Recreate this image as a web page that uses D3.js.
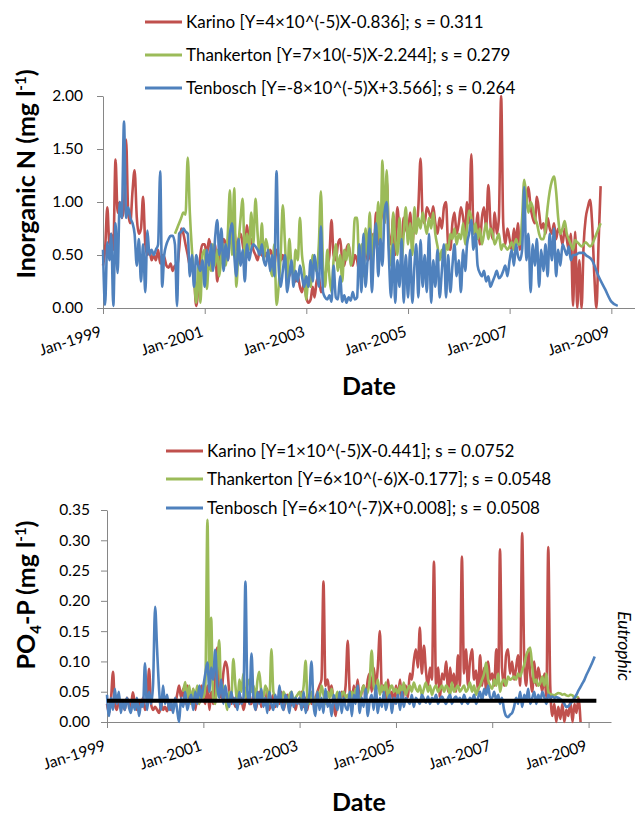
<!DOCTYPE html>
<html>
<head>
<meta charset="utf-8">
<script src="https://cdn.jsdelivr.net/npm/d3@7"></script>
<style>
  body { margin: 0; background: #fff; }
  text { font-family: Lato, "Open Sans", sans-serif; }
</style>
</head>
<body>
<svg id="chart" width="635" height="816"></svg>
<script>

// sampling: two readings a month (1st and 16th), Jan-1999 .. 2009
const years = [1999, 2000, 2001, 2002, 2003, 2004, 2005, 2006, 2007, 2008, 2009];
const halfMonthDays = ["01-01","01-16","02-01","02-16","03-01","03-16","04-01","04-16",
    "05-01","05-16","06-01","06-16","07-01","07-16","08-01","08-16",
    "09-01","09-16","10-01","10-16","11-01","11-16","12-01","12-16"];

const xTickLabels = ["Jan-1999", "Jan-2001", "Jan-2003", "Jan-2005", "Jan-2007", "Jan-2009"];
const seriesNames = ["Karino", "Thankerton", "Tenbosch"];
const seriesColors = ["#C0504D", "#9BBB59", "#4F81BD"];

// ---- Inorganic N (mg l-1) ----
const legendN = [
    "Karino [Y=4×10^(-5)X-0.836]; s = 0.311",
    "Thankerton [Y=7×10(-5)X-2.244]; s = 0.279",
    "Tenbosch [Y=-8×10^(-5)X+3.566]; s = 0.264"
];
const yTicksN = [0, 0.5, 1.0, 1.5, 2.0];

const karinoN = [
 /*1999*/ 0.40,0.55, 0.95,0.60, 0.70,0.55, 1.40,0.90, 1.00,0.85, 0.95,1.59, 0.90,0.80, 1.10,1.30, 0.85,0.70, 0.75,1.05, 0.60,0.50, 0.55,0.45,
 /*2000*/ 0.50,0.45, 0.55,0.42, 0.50,0.48, 0.40,0.38, 0.42,0.35, 0.40,0.38, 0.55,0.75, 0.70,0.60, 0.50,0.40, 0.45,0.30, 0.02,0.20, 0.50,0.60,
 /*2001*/ 0.60,0.50, 0.65,0.55, 0.45,0.60, 0.25,0.50, 0.55,0.65, 0.60,0.45, 0.70,0.60, 0.75,0.55, 0.65,0.70, 0.60,0.50, 0.78,0.60, 0.65,0.55,
 /*2002*/ 0.50,0.45, 0.55,0.50, 0.48,0.52, 0.45,0.55, 0.50,0.40, 0.55,0.50, 0.45,0.50, 0.40,0.45, 0.30,0.40, 0.35,0.25, 0.30,0.20, 0.15,0.25,
 /*2003*/ 0.10,0.05, 0.08,0.20, 0.10,0.25, 0.30,0.15, 0.20,0.30, 0.40,0.50, 0.83,0.50, 0.45,0.60, 0.65,0.45, 0.40,0.55, 0.60,0.45, 0.40,0.50,
 /*2004*/ 0.45,0.35, 0.50,0.40, 0.60,0.45, 0.50,0.70, 0.55,0.90, 0.60,0.75, 1.00,0.80, 1.20,0.70, 0.60,0.85, 0.50,0.95, 0.70,0.60, 0.85,0.75,
 /*2005*/ 0.70,0.90, 0.60,0.80, 0.75,0.95, 1.41,0.85, 0.80,0.95, 0.90,0.85, 0.96,0.80, 0.70,0.85, 0.75,0.95, 1.00,0.60, 0.55,0.80, 0.90,0.70,
 /*2006*/ 0.80,0.95, 0.85,0.70, 1.00,0.80, 1.45,0.75, 0.70,0.90, 0.60,0.85, 0.95,0.75, 1.16,0.80, 0.65,0.90, 0.70,0.85, 2.00,0.80, 0.60,0.75,
 /*2007*/ 0.65,0.55, 0.75,0.60, 0.80,0.55, 0.70,0.90, 1.00,1.14, 0.95,0.85, 0.80,1.05, 0.90,0.75, 0.80,0.70, 0.85,0.75, 0.70,0.80, 0.65,0.75,
 /*2008*/ 0.70,0.60, 0.75,0.65, 0.55,0.70, 0.02,0.72, 0.00,0.45, 0.00,0.60, 0.85,0.95, 1.02,0.80, 0.30,0.00, 0.60,1.15
];

const thankertonN = [
 /*1999*/ null,null, null,null, null,null, null,null, null,null, null,null, null,null, null,null, null,null, null,null, null,null, null,null,
 /*2000*/ null,null, null,null, null,null, null,null, null,null, 0.70,0.75, 0.80,0.85, 0.90,0.88, 1.42,0.90, 0.55,0.30, 0.05,0.40, 0.05,0.50,
 /*2001*/ 0.55,0.18, 0.45,0.35, 0.60,0.40, 0.55,0.30, 0.50,0.60, 0.40,0.70, 1.11,0.50, 1.13,0.20, 0.60,0.85, 1.03,0.45, 0.70,0.55, 0.90,0.60,
 /*2002*/ 1.03,0.70, 0.50,0.80, 0.45,0.65, 0.55,0.40, 0.30,0.60, 0.03,0.20, 0.50,0.97, 0.60,0.25, 0.65,0.40, 0.30,0.55, 0.45,0.85, 0.50,0.35,
 /*2003*/ 0.08,0.30, 0.20,0.50, 0.40,0.35, 0.60,1.10, 0.40,0.20, 0.55,0.30, 0.15,0.45, 0.60,0.35, 0.50,0.25, 0.55,0.45, 0.60,0.40, 0.50,0.85,
 /*2004*/ 0.85,0.40, 0.60,0.30, 0.75,0.50, 0.90,0.45, 0.70,0.60, 1.00,0.55, 1.39,0.80, 1.30,0.60, 0.40,0.90, 0.65,0.50, 0.85,0.45, 0.70,0.95,
 /*2005*/ 0.60,0.80, 0.50,0.95, 0.70,0.85, 0.75,0.90, 0.80,0.70, 0.85,0.75, 0.90,0.70, 0.58,0.45, 0.55,0.40, 0.60,0.55, 0.70,0.65, 0.75,0.60,
 /*2006*/ 0.70,0.65, 0.80,0.60, 0.75,0.92, 0.85,0.70, 0.80,0.65, 0.75,0.60, 0.70,0.80, 0.65,0.75, 0.70,0.60, 0.65,0.70, 0.55,0.60, 0.58,0.55,
 /*2007*/ 0.58,0.62, 0.55,0.65, 0.60,0.60, 0.85,1.21, 1.05,0.90, 1.00,0.95, 0.85,0.80, 0.70,0.65, 0.65,0.75, 0.95,1.10, 1.20,1.24, 1.10,0.85,
 /*2008*/ 0.70,0.75, 0.82,0.70, 0.65,0.60, 0.55,0.64, 0.62,0.60, 0.58,0.60, 0.62,0.60, 0.58,0.60, 0.65,0.70, 0.75,0.80
];

const tenboschN = [
 /*1999*/ 0.55,0.03, 0.62,0.45, 0.70,0.02, 0.80,0.33, 1.00,0.85, 1.76,0.85, 0.95,0.85, 0.80,0.70, 0.40,0.65, 0.25,0.60, 0.15,0.73, 0.50,0.55,
 /*2000*/ 0.50,0.55, 0.60,1.29, 0.20,0.50, 0.60,0.65, 0.68,0.68, 0.60,0.02, 0.70,0.72, 0.75,0.72, 0.70,0.30, 0.50,0.20, 0.50,0.40, 0.35,0.45,
 /*2001*/ 0.20,0.55, 0.40,0.60, 0.35,0.65, 0.83,0.50, 0.75,0.35, 0.60,0.45, 0.70,0.80, 0.50,0.30, 0.65,0.40, 0.55,0.25, 0.60,0.45, 0.55,0.60,
 /*2002*/ 0.58,0.55, 0.50,0.60, 0.45,0.40, 0.55,0.35, 0.50,0.30, 1.29,0.40, 0.20,0.35, 0.50,0.15, 0.30,0.45, 0.20,0.35, 0.25,0.40, 0.30,0.20,
 /*2003*/ 0.30,0.20, 0.45,0.25, 0.50,0.35, 0.20,0.77, 0.15,0.10, 0.08,0.12, 0.06,0.40, 0.10,0.08, 0.30,0.06, 0.12,0.05, 0.10,0.07, 0.15,0.08,
 /*2004*/ 0.10,0.60, 0.15,0.70, 0.20,0.45, 0.75,0.15, 0.55,0.80, 0.30,0.65, 0.40,0.90, 1.00,0.50, 0.10,0.60, 0.05,0.45, 0.20,0.65, 0.05,0.50,
 /*2005*/ 0.10,0.55, 0.05,0.40, 0.60,0.10, 0.64,0.20, 0.50,0.15, 0.70,0.05, 0.45,0.20, 0.55,0.10, 0.35,0.60, 0.10,0.50, 0.15,0.40, 0.60,0.30,
 /*2006*/ 0.45,0.15, 0.55,0.35, 0.60,0.70, 0.83,0.55, 0.70,0.40, 0.33,0.30, 0.35,0.25, 0.30,0.20, 0.25,0.30, 0.35,0.28, 0.30,0.35, 0.40,0.30,
 /*2007*/ 0.45,0.55, 0.40,0.60, 0.50,0.45, 0.55,1.14, 0.45,0.70, 0.15,0.60, 0.40,0.65, 0.20,0.55, 0.35,0.60, 0.30,0.70, 0.45,0.75, 0.30,0.55,
 /*2008*/ 0.40,0.60, 0.55,0.50, 0.58,0.45, 0.50,0.50, 0.51,0.52, 0.52,0.52, 0.50,null, null,0.45, null,null, 0.30,null, null,0.18, null,null,
 /*2009*/ 0.06,null, null,0.02
];

// ---- PO4-P (mg l-1) ----
const legendP = [
    "Karino [Y=1×10^(-5)X-0.441]; s = 0.0752",
    "Thankerton [Y=6×10^(-6)X-0.177]; s = 0.0548",
    "Tenbosch [Y=6×10^(-7)X+0.008]; s = 0.0508"
];
const yTicksP = [0, 0.05, 0.10, 0.15, 0.20, 0.25, 0.30, 0.35];
const eutrophicLevel = 0.035;
const eutrophicSpan = ["1999-01-01", "2009-03-01"];

const karinoP = [
 /*1999*/ 0.030,0.015, 0.040,0.083, 0.030,0.020, 0.035,0.025, 0.030,0.020, 0.040,0.030, 0.025,0.049, 0.030,0.020, 0.035,0.025, 0.040,0.020, 0.030,0.088, 0.030,0.020,
 /*2000*/ 0.025,0.020, 0.015,0.030, 0.020,0.025, 0.018,0.030, 0.020,0.025, 0.030,0.045, 0.060,0.040, 0.055,0.030, 0.060,0.040, 0.030,0.055, 0.020,0.045, 0.030,0.060,
 /*2001*/ 0.040,0.030, 0.060,0.020, 0.050,0.030, 0.070,0.123, 0.060,0.040, 0.080,0.100, 0.090,0.050, 0.030,0.040, 0.025,0.050, 0.030,0.040, 0.020,0.035, 0.050,0.030,
 /*2002*/ 0.030,0.045, 0.020,0.035, 0.050,0.025, 0.040,0.030, 0.055,0.020, 0.035,0.045, 0.025,0.040, 0.030,0.050, 0.020,0.035, 0.045,0.025, 0.030,0.040, 0.020,0.035,
 /*2003*/ 0.030,0.050, 0.025,0.040, 0.020,0.045, 0.030,0.035, 0.040,0.050, 0.060,0.070, 0.232,0.060, 0.070,0.050, 0.060,0.030, 0.010,0.040, 0.030,0.050, 0.040,0.060,
 /*2004*/ 0.134,0.050, 0.030,0.060, 0.040,0.070, 0.035,0.050, 0.060,0.040, 0.070,0.080, 0.050,0.090, 0.060,0.090, 0.150,0.050, 0.060,0.030, 0.070,0.040, 0.050,0.030,
 /*2005*/ 0.060,0.040, 0.070,0.030, 0.050,0.060, 0.040,0.080, 0.070,0.100, 0.120,0.090, 0.156,0.080, 0.126,0.085, 0.060,0.090, 0.070,0.265, 0.060,0.090, 0.040,0.080,
 /*2006*/ 0.070,0.100, 0.050,0.090, 0.060,0.080, 0.050,0.110, 0.060,0.273, 0.080,0.120, 0.060,0.100, 0.120,0.070, 0.085,0.050, 0.110,0.060, 0.090,0.050, 0.100,0.070,
 /*2007*/ 0.080,0.060, 0.120,0.070, 0.285,0.090, 0.060,0.110, 0.120,0.080, 0.100,0.070, 0.090,0.110, 0.060,0.312, 0.100,0.060, 0.120,0.080, 0.050,0.100, 0.060,0.090,
 /*2008*/ 0.070,0.050, 0.080,0.040, 0.289,0.060, 0.010,0.030, 0.000,0.025, 0.005,0.030, 0.000,0.020, 0.010,0.035, 0.000,0.030, 0.015,0.040, 0.000
];

const thankertonP = [
 /*1999*/ null,null, null,null, null,null, null,null, null,null, null,null, null,null, null,null, null,null, null,null, null,null, null,null,
 /*2000*/ null,null, null,null, null,null, null,null, null,null, null,null, null,null, 0.050,0.066, 0.040,0.060, 0.030,0.055, 0.040,0.060, 0.030,0.050,
 /*2001*/ 0.040,0.060, 0.334,0.050, 0.172,0.040, 0.030,0.080, 0.135,0.050, 0.060,0.040, 0.020,0.050, 0.040,0.104, 0.060,0.030, 0.070,0.050, 0.080,0.040, 0.060,0.070,
 /*2002*/ 0.050,0.060, 0.040,0.070, 0.083,0.050, 0.040,0.060, 0.050,0.030, 0.120,0.050, 0.040,0.030, 0.045,0.035, 0.050,0.040, 0.030,0.045, 0.050,0.035, 0.040,0.045,
 /*2003*/ 0.050,0.040, 0.060,0.101, 0.040,0.030, 0.050,0.040, 0.020,0.050, 0.040,0.060, 0.045,0.030, 0.050,0.040, 0.055,0.035, 0.040,0.050, 0.030,0.045, 0.050,0.040,
 /*2004*/ 0.045,0.035, 0.050,0.040, 0.055,0.045, 0.040,0.050, 0.060,0.045, 0.050,0.070, 0.118,0.060, 0.050,0.070, 0.045,0.060, 0.050,0.065, 0.040,0.055, 0.060,0.050,
 /*2005*/ 0.055,0.045, 0.060,0.050, 0.065,0.045, 0.055,0.060, 0.050,0.065, 0.055,0.050, 0.060,0.045, 0.055,0.065, 0.050,0.060, 0.045,0.055, 0.060,0.050, 0.055,0.060,
 /*2006*/ 0.050,0.060, 0.055,0.045, 0.065,0.050, 0.055,0.060, 0.050,0.055, 0.060,0.050, 0.055,0.065, 0.050,0.060, 0.045,0.055, 0.060,0.070, 0.080,0.098, 0.070,0.060,
 /*2007*/ 0.055,0.070, 0.060,0.080, 0.050,0.065, 0.070,0.060, 0.075,0.070, 0.072,0.075, 0.070,0.080, 0.075,0.085, 0.095,0.110, 0.118,0.123, 0.090,0.065, 0.070,0.060,
 /*2008*/ 0.065,0.075, 0.060,0.080, 0.050,0.046, 0.045,0.044, 0.046,0.048, 0.047,0.045, 0.046,0.044, 0.043,0.045, 0.044,0.040, 0.042,0.040
];

const tenboschP = [
 /*1999*/ 0.045,0.010, 0.040,0.020, 0.055,0.030, 0.050,0.015, 0.035,0.020, 0.040,0.025, 0.015,0.035, 0.020,0.040, 0.010,0.030, 0.025,0.097, 0.020,0.050, 0.030,0.060,
 /*2000*/ 0.190,0.120, 0.050,0.020, 0.060,0.030, 0.045,0.020, 0.035,0.015, 0.040,0.020, 0.000,0.040, 0.025,0.050, 0.020,0.035, 0.045,0.020, 0.050,0.030, 0.060,0.040,
 /*2001*/ 0.060,0.080, 0.098,0.050, 0.090,0.070, 0.119,0.060, 0.040,0.070, 0.030,0.060, 0.040,0.025, 0.050,0.030, 0.040,0.020, 0.050,0.030, 0.040,0.232, 0.050,0.030,
 /*2002*/ 0.113,0.040, 0.020,0.050, 0.030,0.055, 0.025,0.040, 0.015,0.050, 0.030,0.020, 0.045,0.025, 0.060,0.030, 0.020,0.045, 0.035,0.015, 0.050,0.025, 0.040,0.030,
 /*2003*/ 0.040,0.020, 0.050,0.015, 0.030,0.045, 0.100,0.030, 0.010,0.050, 0.020,0.040, 0.015,0.055, 0.025,0.035, 0.010,0.045, 0.030,0.020, 0.050,0.015, 0.040,0.025,
 /*2004*/ 0.020,0.050, 0.010,0.045, 0.030,0.060, 0.015,0.040, 0.025,0.055, 0.010,0.035, 0.045,0.020, 0.060,0.015, 0.040,0.025, 0.050,0.020, 0.035,0.045, 0.015,0.040,
 /*2005*/ 0.030,0.045, 0.020,0.050, 0.025,0.040, 0.035,0.030, 0.045,0.025, 0.040,0.035, 0.030,0.045, 0.038,0.032, 0.042,0.030, 0.040,0.035, 0.045,0.030, 0.038,0.042,
 /*2006*/ 0.035,0.030, 0.040,0.045, 0.030,0.038, 0.042,0.035, 0.040,0.030, 0.045,0.035, 0.030,0.040, 0.035,0.045, 0.030,0.040, 0.050,0.035, 0.055,0.045, 0.060,0.040,
 /*2007*/ 0.040,0.050, 0.035,0.045, 0.030,0.040, 0.020,0.010, 0.008,0.012, 0.015,0.025, 0.040,0.030, 0.050,0.025, 0.045,0.035, 0.055,0.030, 0.040,0.050, 0.030,0.045,
 /*2008*/ 0.035,0.050, 0.040,0.030, 0.045,0.040, 0.042,0.040, 0.041,0.040, 0.038,0.035, 0.030,0.025, 0.026,0.030, 0.035,0.040, 0.045,0.052, 0.058,0.064, 0.070,0.078,
 /*2009*/ 0.085,0.092, 0.100,0.108
];

const parseDate = d3.timeParse("%Y-%m-%d");
const sampleDates = years.flatMap(y => halfMonthDays.map(md => parseDate(y + "-" + md)));
const xDomain = [parseDate("1999-01-01"), parseDate("2009-06-20")];

const svg = d3.select("#chart");

function toPoints(values) {
    return values.map((v, i) => ({date: sampleDates[i], value: v}))
        .filter(d => d.value !== null && d.value !== undefined);
}

function drawPanel(p) {
    const x = d3.scaleTime().domain(xDomain).range([p.left, p.right]);
    const y = d3.scaleLinear().domain([0, p.yMax]).range([p.bottom, p.top]);

    // y axis
    const yAxis = svg.append("g")
        .attr("transform", "translate(" + p.left + ",0)")
        .call(d3.axisLeft(y).tickValues(p.yTicks).tickFormat(d3.format(".2f"))
            .tickSize(6).tickSizeOuter(0).tickPadding(p.yPad));
    yAxis.select(".domain").attr("stroke", "#868686");
    yAxis.selectAll(".tick line").attr("stroke", "#868686");
    yAxis.selectAll(".tick text").attr("fill", "#000").style("font-size", "15.5px");

    // x axis
    const xTicks = xTickLabels.map(s => d3.timeParse("%b-%Y")(s));
    const xAxis = svg.append("g")
        .attr("transform", "translate(0," + p.bottom + ")")
        .call(d3.axisBottom(x).tickValues(xTicks).tickFormat(d3.timeFormat("%b-%Y"))
            .tickSize(6).tickSizeOuter(0));
    xAxis.select(".domain").attr("stroke", "#868686");
    xAxis.selectAll(".tick line").attr("stroke", "#868686");
    xAxis.selectAll(".tick text")
        .attr("fill", "#000").style("font-size", "15.5px")
        .attr("x", 0).attr("y", 0).attr("dy", 0)
        .attr("text-anchor", "end")
        .attr("transform", "translate(-1,28) rotate(-18)");

    // series
    const line = d3.line()
        .x(d => x(d.date))
        .y(d => y(d.value))
        .curve(d3.curveMonotoneX);

    p.series.forEach((vals, i) => {
        svg.append("path")
            .datum(toPoints(vals))
            .attr("fill", "none")
            .attr("stroke", seriesColors[i])
            .attr("stroke-width", 2.6)
            .attr("stroke-linejoin", "round")
            .attr("d", line);
    });

    if (p.threshold) {
        svg.append("line")
            .attr("x1", x(parseDate(eutrophicSpan[0])))
            .attr("x2", x(parseDate(eutrophicSpan[1])))
            .attr("y1", y(eutrophicLevel))
            .attr("y2", y(eutrophicLevel))
            .attr("stroke", "#000")
            .attr("stroke-width", 4);
        svg.append("text")
            .attr("transform", "translate(618,646) rotate(90)")
            .attr("text-anchor", "middle")
            .style("font-size", "17.5px")
            .style("font-style", "italic")
            .text("Eutrophic");
    }

    // legend
    p.legend.forEach((label, i) => {
        const ly = p.legendRows[i];
        svg.append("line")
            .attr("x1", p.legendX).attr("x2", p.legendX + p.legendLen)
            .attr("y1", ly).attr("y2", ly)
            .attr("stroke", seriesColors[i]).attr("stroke-width", 3);
        svg.append("text")
            .attr("x", p.legendX + p.legendLen + 4)
            .attr("y", ly + 6)
            .style("font-size", "17px")
            .text(label);
    });

    // axis titles
    svg.append("text")
        .attr("x", (p.left + p.right) / 2)
        .attr("y", p.dateY)
        .attr("text-anchor", "middle")
        .style("font-size", "25px")
        .style("font-weight", "bold")
        .text("Date");

    const yt = svg.append("text")
        .attr("transform", "translate(35," + p.yTitleY + ") rotate(-90)")
        .attr("text-anchor", "middle")
        .style("font-size", "25px")
        .style("font-weight", "bold");
    p.yTitle(yt);
}

drawPanel({
    left: 103, right: 635, top: 96, bottom: 308,
    yMax: 2, yTicks: yTicksN, yPad: 14,
    series: [karinoN, thankertonN, tenboschN],
    legend: legendN, legendX: 145, legendLen: 37, legendRows: [22, 55, 88],
    dateY: 395, yTitleY: 174,
    yTitle: t => {
        t.append("tspan").text("Inorganic N (mg l");
        t.append("tspan").attr("dy", -9).style("font-size", "15px").text("-1");
        t.append("tspan").attr("dy", 9).text(")");
    }
});

drawPanel({
    left: 107, right: 611, top: 510, bottom: 722,
    yMax: 0.35, yTicks: yTicksP, yPad: 11,
    series: [karinoP, thankertonP, tenboschP],
    legend: legendP, legendX: 166, legendLen: 37, legendRows: [451, 479, 508],
    dateY: 811, yTitleY: 595, threshold: true,
    yTitle: t => {
        t.append("tspan").text("PO");
        t.append("tspan").attr("dy", 6).style("font-size", "15px").text("4");
        t.append("tspan").attr("dy", -6).text("-P (mg l");
        t.append("tspan").attr("dy", -9).style("font-size", "15px").text("-1");
        t.append("tspan").attr("dy", 9).text(")");
    }
});

</script>
</body>
</html>
